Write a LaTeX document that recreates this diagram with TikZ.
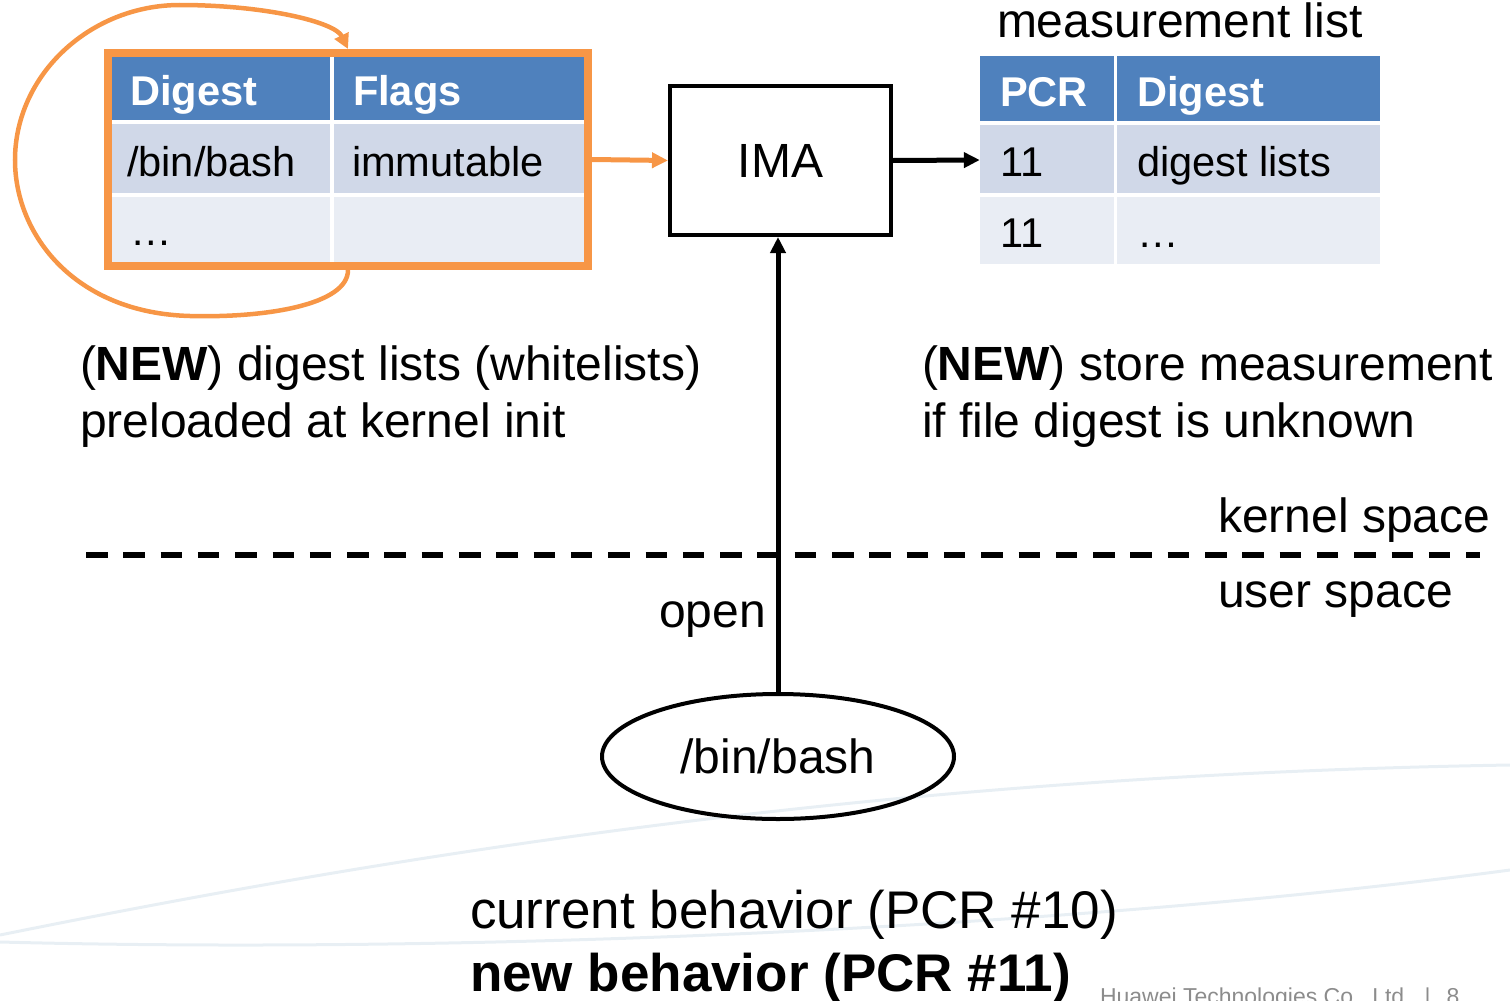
\documentclass[tikz,border=0pt]{standalone}
\usepackage{fontspec}
\setmainfont{Liberation Sans}
\usetikzlibrary{arrows.meta,shapes.geometric,calc}

\definecolor{hdrblue}{HTML}{4F81BD}
\definecolor{rowdark}{HTML}{D0D8E8}
\definecolor{rowlight}{HTML}{E9EDF4}
\definecolor{accent}{HTML}{F79646}
\definecolor{swoosh}{HTML}{E8EFF4}
\definecolor{footgray}{HTML}{8C8C8C}

\newcommand\bodyfont{\fontsize{48}{57}\selectfont}
\newcommand\bigfont{\fontsize{53}{62}\selectfont}
\newcommand\cellfont{\fontsize{41.6}{50}\selectfont}
\newcommand\footfont{\fontsize{23}{27}\selectfont}

\tikzset{
  txt/.style={inner sep=0pt, outer sep=0pt, anchor=base west, font=\bodyfont},
  celltxt/.style={inner sep=0pt, outer sep=0pt, anchor=base west, font=\cellfont},
  hdrtxt/.style={celltxt, text=white, font=\cellfont\bfseries},
  link/.style={line width=5pt, -{Triangle[length=16pt,width=15pt]}},
  swooshline/.style={swoosh, line width=3pt},
}

\begin{document}
\begin{tikzpicture}[x=1pt,y=-1pt]
\useasboundingbox (0,0) rectangle (1510,1001);

% faint background swooshes
\draw[swooshline] (0,935) .. controls (420,850) and (900,775) .. (1510,765);
\draw[swooshline] (0,942) .. controls (500,955) and (1100,925) .. (1510,870);

% ---------- digest list table (left) ----------
\fill[hdrblue]  (112,57)  rectangle (330,120);
\fill[hdrblue]  (334,57)  rectangle (584,120);
\fill[rowdark]  (112,124) rectangle (330,193);
\fill[rowdark]  (334,124) rectangle (584,193);
\fill[rowlight] (112,197) rectangle (330,262);
\fill[rowlight] (334,197) rectangle (584,262);
\node[draw=accent, line width=8pt, minimum width=480pt, minimum height=213pt,
      inner sep=0pt] (frame) at (348,159.5) {};

\node[hdrtxt]  (dh1) at (130,105) {Digest};
\node[hdrtxt]  (dh2) at (353,105) {Flags};
\node[celltxt] (dc1) at (127,176) {/bin/bash};
\node[celltxt] (dc2) at (352,176) {immutable};
\node[celltxt] (dc3) at (130,245) {\dots};

% ---------- measurement list table (right) ----------
\fill[hdrblue]  (980,56)   rectangle (1114,121);
\fill[hdrblue]  (1117,56)  rectangle (1380,121);
\fill[rowdark]  (980,125)  rectangle (1114,193);
\fill[rowdark]  (1117,125) rectangle (1380,193);
\fill[rowlight] (980,197)  rectangle (1114,264);
\fill[rowlight] (1117,197) rectangle (1380,264);
\node[inner sep=0pt, minimum width=400pt, minimum height=208pt] (mtab) at (1180,160) {};

\node[txt] (mlabel) at (997,37) {measurement list};
\node[hdrtxt]  (mh1) at (1000,106) {PCR};
\node[hdrtxt]  (mh2) at (1137,106) {Digest};
\node[celltxt] (mc1) at (1000,176) {11};
\node[celltxt] (mc2) at (1137,176) {digest lists};
\node[celltxt] (mc3) at (1000,247) {11};
\node[celltxt] (mc4) at (1137,247) {\dots};

% ---------- IMA and the file ----------
\node[draw, line width=4pt, minimum width=221pt, minimum height=149pt,
      inner sep=0pt, font=\bodyfont] (ima) at (780.5,160.5) {IMA};
\node[draw, ellipse, line width=4pt, minimum width=352pt, minimum height=125pt,
      inner sep=0pt, font=\bodyfont] (bash) at (778,756.5) {/bin/bash};

% ---------- kernel / user space divider ----------
\coordinate (divl) at (86,555);
\coordinate (divr) at (1480,555);
\draw[line width=6pt, dash pattern=on 21.5pt off 15.8pt] (divl) -- (divr);

% ---------- connectors ----------
\draw[link, accent] (frame.east) -- (ima.west);
\draw[link] (ima.east) -- (mtab.west);
\draw[link] (bash.north) -- (bash.north |- ima.south);
\draw[accent, line width=4.5pt, -{Triangle[length=15pt,width=15pt]}]
  (frame.south) .. controls +(0,35) and (265,318) .. (190,316)
  .. controls (75,313) and (15,235) .. (15,160)
  .. controls (15,75) and (90,5) .. (180,5)
  .. controls (265,5) and (335,22) .. (frame.north);

% ---------- labels ----------
\node[txt] (newl1) at (80,380) {(\textbf{NEW}) digest lists (whitelists)};
\node[txt] (newl2) at (80,437) {preloaded at kernel init};
\node[txt] (newr1) at (922,380) {(\textbf{NEW}) store measurement};
\node[txt] (newr2) at (922,437) {if file digest is unknown};
\node[txt] (kspace) at (1218,532) {kernel space};
\node[txt] (uspace) at (1218,607) {user space};
\node[txt, anchor=base east] (open) at (766,627) {open};

\node[txt, font=\bigfont] (cur) at (470,928) {current behavior (PCR \#10)};
\node[txt, font=\bigfont\bfseries] (new) at (470,991) {new behavior (PCR \#11)};

\node[txt, font=\footfont, text=footgray] (foot) at (1100,1004)
  {Huawei Technologies Co., Ltd.\hspace{14pt}|\hspace{16pt}8};
\end{tikzpicture}
\end{document}
